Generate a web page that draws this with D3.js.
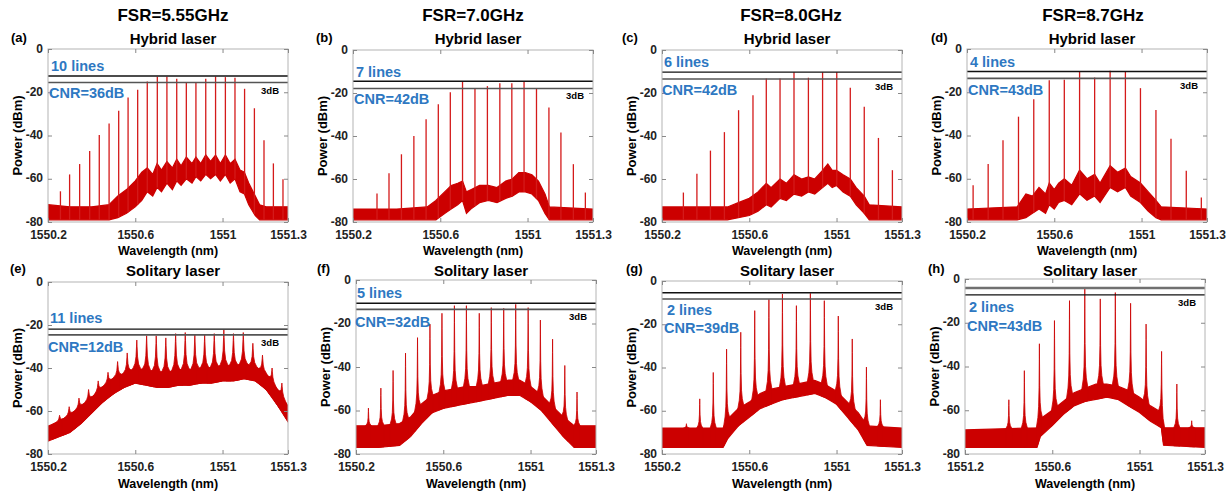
<!DOCTYPE html>
<html>
<head>
<meta charset="utf-8">
<script src="https://cdn.jsdelivr.net/npm/d3@7"></script>
<style>
  body { margin: 0; background: #fff; }
  svg { display: block; font-family: "Liberation Sans", Arial, sans-serif; font-weight: bold; }
</style>
</head>
<body>
<svg id="fig" width="1231" height="491"></svg>
<script>
// ---- data ----
var fsrTitles = ["FSR=5.55GHz", "FSR=7.0GHz", "FSR=8.0GHz", "FSR=8.7GHz"];
var panelTags = ["(a)", "(b)", "(c)", "(d)", "(e)", "(f)", "(g)", "(h)"];
var laserTitles = ["Hybrid laser", "Hybrid laser", "Hybrid laser", "Hybrid laser",
                   "Solitary laser", "Solitary laser", "Solitary laser", "Solitary laser"];
var lineCounts = ["10 lines", "7 lines", "6 lines", "4 lines", "11 lines", "5 lines", "2 lines", "2 lines"];
var cnrLabels = ["CNR=36dB", "CNR=42dB", "CNR=42dB", "CNR=43dB", "CNR=12dB", "CNR=32dB", "CNR=39dB", "CNR=43dB"];
// top / bottom of the 3 dB window (dBm)
var refLevels = [[-12.5, -15.5], [-14.5, -17.9], [-10.3, -13.5], [-10.4, -13.6],
                 [-21.9, -24.6], [-10.7, -13.5], [-5.4, -8.3], [-4.1, -7.3]];
var yTicks = [0, -20, -40, -60, -80];
var xTicks = [1550.2, 1550.6, 1551, 1551.3];
var xTickLabels = ["1550.2", "1550.6", "1551", "1551.3"];
var xTickLabelsH = ["1551.2", "1550.6", "1551", "1551.3"];

// comb lines [wavelength nm, power dBm]
var peaksA = [[1550.257,-65.8],[1550.299,-58],[1550.345,-53.2],[1550.391,-47.2],[1550.435,-39.8],[1550.480,-34.5],
  [1550.524,-28.5],[1550.567,-22.4],[1550.611,-18.9],[1550.655,-15],[1550.701,-12.8],[1550.745,-12.8],[1550.790,-13.8],
  [1550.834,-15.3],[1550.878,-15.3],[1550.923,-13.8],[1550.968,-12.8],[1551.013,-13],[1551.057,-13.3],[1551.101,-18.4],
  [1551.146,-27.4],[1551.190,-42.2],[1551.233,-52.9],[1551.277,-60.2]];
var peaksB = [[1550.310,-66.8],[1550.365,-57.3],[1550.422,-48.5],[1550.479,-40],[1550.535,-32.2],[1550.591,-25.2],
  [1550.646,-19.7],[1550.702,-14.6],[1550.759,-17.9],[1550.816,-16.8],[1550.873,-15.5],[1550.928,-15.5],[1550.984,-14.6],
  [1551.041,-17.9],[1551.098,-26.7],[1551.153,-38.4],[1551.210,-53.1],[1551.265,-66.3]];
var peaksC = [[1550.298,-66.3],[1550.360,-57.6],[1550.422,-46.8],[1550.486,-38.2],[1550.551,-28],[1550.617,-21],
  [1550.678,-13.2],[1550.741,-13.2],[1550.805,-10.4],[1550.871,-12.9],[1550.936,-10.4],[1551.001,-10.4],[1551.063,-17.6],
  [1551.127,-26.4],[1551.192,-40.9],[1551.256,-55.9]];
var peaksD = [[1550.228,-63],[1550.297,-53.2],[1550.365,-42.2],[1550.436,-31.3],[1550.506,-23.2],[1550.577,-14.5],
  [1550.646,-14.2],[1550.716,-10.3],[1550.785,-13.2],[1550.856,-10.1],[1550.926,-10.6],[1550.995,-18.1],[1551.066,-28.2],
  [1551.135,-41.5],[1551.205,-56.3],[1551.274,-68.7]];
var peaksE = [[1550.253,-62],[1550.297,-58],[1550.342,-54],[1550.386,-50],[1550.430,-46],[1550.475,-42],[1550.519,-37],
  [1550.563,-33],[1550.607,-27],[1550.652,-25],[1550.696,-25],[1550.740,-26],[1550.785,-24],[1550.829,-23.5],
  [1550.873,-24.5],[1550.918,-24.5],[1550.962,-24],[1551.006,-22.3],[1551.050,-24],[1551.095,-23.5],[1551.139,-28.5],
  [1551.183,-34],[1551.227,-40],[1551.272,-47]];
var peaksF = [[1550.257,-58.9],[1550.314,-49.7],[1550.370,-41.6],[1550.427,-33.6],[1550.482,-26.5],[1550.539,-20.3],
  [1550.594,-15.3],[1550.651,-11.8],[1550.706,-11.8],[1550.765,-15.3],[1550.820,-12.7],[1550.877,-13],[1550.932,-11.2],
  [1550.989,-12.7],[1551.045,-18.4],[1551.101,-27.2],[1551.157,-39.3],[1551.213,-51.5]];
var peaksG = [[1550.312,-66],[1550.373,-54.5],[1550.435,-42.3],[1550.496,-31.5],[1550.561,-23.7],[1550.625,-13.7],
  [1550.690,-8.5],[1550.752,-6],[1550.816,-11.4],[1550.880,-5.7],[1550.944,-9.1],[1551.008,-16.2],[1551.072,-26.8],
  [1551.137,-39.8],[1551.201,-54.9]];
var peaksH = [[1550.401,-55.2],[1550.472,-41.9],[1550.541,-29.6],[1550.610,-19],[1550.679,-9.9],[1550.749,-4.6],
  [1550.820,-9.1],[1550.889,-6.2],[1550.959,-11.1],[1551.030,-20.6],[1551.101,-33.1],[1551.171,-48],[1551.239,-64.8]];

// noise floor band [wavelength nm, lower dBm, upper dBm]
var floorA = [[1550.20,-79,-72],[1550.30,-79,-73],[1550.40,-79,-73],[1550.48,-79,-72],[1550.52,-78,-68],[1550.56,-76,-65],
  [1550.60,-73,-61],[1550.63,-70,-57],[1550.655,-66,-55],[1550.68,-68,-58],[1550.70,-64,-53],[1550.72,-66,-56],
  [1550.745,-62,-52],[1550.77,-65,-55],[1550.79,-61,-51],[1550.81,-63,-54],[1550.834,-60,-50],[1550.86,-62,-53],
  [1550.878,-59,-50],[1550.90,-61,-53],[1550.923,-58,-49],[1550.945,-60,-52],[1550.968,-58,-49],[1550.99,-61,-53],
  [1551.013,-58,-49],[1551.035,-62,-53],[1551.057,-60,-51],[1551.08,-66,-56],[1551.10,-67,-57],[1551.12,-72,-62],
  [1551.15,-77,-68],[1551.17,-79,-72],[1551.20,-79,-73],[1551.30,-79,-73]];
var floorB = [[1550.20,-79,-74],[1550.40,-79,-74],[1550.54,-79,-73],[1550.58,-79,-70],[1550.62,-76,-66],[1550.65,-74,-63],
  [1550.68,-72,-62],[1550.702,-70,-61],[1550.72,-76,-66],[1550.74,-74,-65],[1550.78,-71,-63],[1550.82,-70,-63],
  [1550.86,-71,-64],[1550.90,-69,-61],[1550.93,-68,-60],[1550.96,-66,-57],[1550.99,-66,-57],[1551.02,-67,-58],
  [1551.05,-70,-61],[1551.08,-76,-67],[1551.10,-79,-73],[1551.30,-79,-74]];
var floorC = [[1550.20,-79,-73],[1550.50,-79,-73],[1550.55,-78,-71],[1550.60,-77,-69],[1550.64,-75,-66],[1550.678,-72,-62],
  [1550.70,-73,-64],[1550.741,-69,-60],[1550.77,-70,-62],[1550.805,-67,-58],[1550.84,-68,-60],[1550.871,-66,-59],
  [1550.90,-67,-60],[1550.936,-64,-56],[1550.96,-62,-53],[1550.98,-64,-56],[1551.00,-63,-56],[1551.03,-66,-58],
  [1551.063,-68,-60],[1551.09,-72,-64],[1551.127,-76,-68],[1551.15,-79,-72],[1551.30,-79,-73]];
var floorD = [[1550.20,-79,-74],[1550.43,-79,-73],[1550.47,-78,-67],[1550.50,-76,-68],[1550.53,-74,-64],[1550.56,-76,-67],
  [1550.577,-72,-62],[1550.60,-74,-65],[1550.62,-71,-62],[1550.646,-70,-60],[1550.68,-72,-63],[1550.716,-67,-56],
  [1550.75,-70,-60],[1550.785,-68,-58],[1550.81,-71,-62],[1550.856,-64,-54],[1550.89,-66,-57],[1550.926,-64,-55],
  [1550.95,-68,-59],[1550.995,-71,-62],[1551.03,-75,-66],[1551.066,-78,-70],[1551.09,-79,-73],[1551.30,-79,-74]];
var floorE = [[1550.20,-74,-67],[1550.25,-72,-65],[1550.30,-70,-62],[1550.35,-66,-58],[1550.40,-61,-54],[1550.45,-56,-49],
  [1550.50,-52,-45],[1550.55,-49,-43],[1550.60,-47,-41],[1550.65,-48,-42],[1550.70,-49,-43],[1550.75,-49,-43],
  [1550.80,-48,-42],[1550.85,-48,-42],[1550.90,-47,-41],[1550.95,-47,-41],[1551.00,-46,-40],[1551.05,-46,-40],
  [1551.10,-45,-39],[1551.15,-46,-40],[1551.20,-50,-43],[1551.25,-57,-50],[1551.30,-65,-58]];
var floorF = [[1550.20,-77,-67],[1550.30,-77,-67],[1550.40,-76,-66],[1550.45,-72,-63],[1550.50,-66,-57],[1550.55,-61,-53],
  [1550.60,-59,-51],[1550.65,-58,-50],[1550.70,-57,-49],[1550.75,-56,-49],[1550.80,-55,-48],[1550.85,-54,-47],
  [1550.90,-53,-46],[1550.95,-53,-46],[1551.00,-56,-49],[1551.05,-60,-53],[1551.10,-66,-58],[1551.15,-72,-63],
  [1551.20,-77,-67],[1551.30,-77,-67]];
var floorG = [[1550.20,-77,-68],[1550.48,-77,-68],[1550.50,-73,-64],[1550.55,-67,-59],[1550.60,-63,-56],[1550.65,-59,-52],
  [1550.70,-57,-50],[1550.75,-55,-49],[1550.80,-54,-48],[1550.85,-53,-47],[1550.90,-52,-46],[1550.95,-54,-48],
  [1551.00,-57,-51],[1551.05,-63,-56],[1551.10,-69,-61],[1551.14,-76,-67],[1551.30,-77,-68]];
var floorH = [[1550.20,-77,-69],[1550.53,-77,-68],[1550.545,-72,-64],[1550.60,-67,-60],[1550.65,-62,-56],[1550.70,-58,-52],
  [1550.75,-56,-50],[1550.80,-55,-48],[1550.85,-54,-48],[1550.90,-55,-49],[1550.95,-58,-51],[1551.00,-61,-54],
  [1551.05,-65,-58],[1551.10,-68,-61],[1551.11,-76,-68],[1551.30,-77,-68]];

var allPeaks = [peaksA, peaksB, peaksC, peaksD, peaksE, peaksF, peaksG, peaksH];
var allFloors = [floorA, floorB, floorC, floorD, floorE, floorF, floorG, floorH];

// ---- layout (pixels) ----
var plotW = 240;
var panelBox = [
  {left: 48,  top: 49,  bottom: 222, tagX: 11,  titleX: 173, textX: 51,  linesY: 71,  cnrY: 98},
  {left: 353, top: 50,  bottom: 222, tagX: 316, titleX: 473, textX: 356, linesY: 77,  cnrY: 104},
  {left: 662, top: 50,  bottom: 222, tagX: 622, titleX: 791, textX: 664, linesY: 67,  cnrY: 95},
  {left: 967, top: 49,  bottom: 222, tagX: 931, titleX: 1093, textX: 970, linesY: 67, cnrY: 95},
  {left: 48,  top: 282, bottom: 454, tagX: 10,  textX: 50,  linesY: 323, cnrY: 352},
  {left: 356, top: 280, bottom: 454, tagX: 317, textX: 357, linesY: 298, cnrY: 327},
  {left: 662, top: 281, bottom: 454, tagX: 626, textX: 667, linesY: 315, cnrY: 333},
  {left: 965, top: 279, bottom: 454, tagX: 928, textX: 969, linesY: 312, cnrY: 331}
];
var red = "#cc0000", blue = "#2e78c2", frameGrey = "#b4b4b4";
// lorentz-like skirt glyph for solitary-laser lines: [offset nm, fraction of height]
var skirt = [[-0.014,0],[-0.007,0.1],[-0.0035,0.22],[-0.0015,0.45],[-0.0005,0.8],[0,1],
             [0.0005,0.8],[0.0015,0.45],[0.0035,0.22],[0.007,0.1],[0.014,0]];

var svg = d3.select("#fig");

// column titles
fsrTitles.forEach(function(t, i) {
  svg.append("text").attr("x", panelBox[i].titleX).attr("y", 21)
    .attr("text-anchor", "middle").attr("font-size", 17).text(t);
});

panelBox.forEach(function(b, i) {
  var L = b.left, R = b.left + plotW, T = b.top, B = b.bottom;
  var hybrid = i < 4;
  var x = d3.scaleLinear().domain([1550.2, 1551.3]).range([L, R]);
  var y = d3.scaleLinear().domain([-80, 0]).range([B, T]);
  var fl = allFloors[i];
  var hiAt = d3.scaleLinear().domain(fl.map(function(d) { return d[0]; })).range(fl.map(function(d) { return d[2]; }));
  var loAt = d3.scaleLinear().domain(fl.map(function(d) { return d[0]; })).range(fl.map(function(d) { return d[1]; }));

  var g = svg.append("g");
  svg.append("clipPath").attr("id", "clip" + i)
    .append("rect").attr("x", L).attr("y", T).attr("width", plotW).attr("height", B - T);
  var plot = g.append("g").attr("clip-path", "url(#clip" + i + ")");

  // noise floor
  plot.append("path").datum(fl)
    .attr("d", d3.area().x(function(d) { return x(d[0]); })
      .y0(function(d) { return y(d[1]); }).y1(function(d) { return y(d[2]); }))
    .attr("fill", red).attr("stroke", red).attr("stroke-width", 1.2);

  if (hybrid) {
    plot.selectAll("line.peak").data(allPeaks[i]).enter().append("line")
      .attr("class", "peak")
      .attr("x1", function(d) { return x(d[0]); }).attr("x2", function(d) { return x(d[0]); })
      .attr("y1", function(d) { return y(loAt(d[0])); }).attr("y2", function(d) { return y(d[1]); })
      .attr("stroke", "#d41a1a").attr("stroke-width", 1.3);
  } else {
    var k = i === 4 ? 2.4 : 1;
    plot.selectAll("path.peak").data(allPeaks[i]).enter().append("path")
      .attr("class", "peak")
      .attr("d", function(p) {
        var base = hiAt(p[0]);
        var pts = skirt.map(function(s) {
          var w = p[0] + s[0] * k;
          return [w, loAt(w), hiAt(w) + s[1] * (p[1] - base)];
        });
        return d3.area().x(function(d) { return x(d[0]); })
          .y0(function(d) { return y(d[1]); }).y1(function(d) { return y(d[2]); })(pts);
      })
      .attr("fill", red).attr("stroke", red).attr("stroke-width", 0.8);
  }

  // 3 dB window lines
  var lv = refLevels[i];
  var upperStyle = i === 7 ? ["#707070", 2.4] : ["#111", 1.4];
  var lowerStyle = i === 7 ? ["#111", 1.3] : ["#555", 1.6];
  g.append("line").attr("x1", L).attr("x2", R).attr("y1", y(lv[0])).attr("y2", y(lv[0]))
    .attr("stroke", upperStyle[0]).attr("stroke-width", upperStyle[1]);
  g.append("line").attr("x1", L).attr("x2", R).attr("y1", y(lv[1])).attr("y2", y(lv[1]))
    .attr("stroke", lowerStyle[0]).attr("stroke-width", lowerStyle[1]);
  g.append("text").attr("x", R - 9).attr("y", y(lv[1]) + 11)
    .attr("text-anchor", "end").attr("font-size", 9.5).text("3dB");

  // frame and axes
  g.append("rect").attr("x", L).attr("y", T).attr("width", plotW).attr("height", B - T)
    .attr("fill", "none").attr("stroke", frameGrey);
  var styleAxis = function(sel) {
    sel.attr("font-family", null).attr("font-size", 12).attr("font-weight", "bold");
    sel.select(".domain").remove();
    sel.selectAll(".tick line").attr("stroke", "#888");
    sel.selectAll(".tick text").attr("fill", "#222");
  };
  g.append("g").attr("transform", "translate(" + L + ",0)")
    .call(d3.axisLeft(y).tickValues(yTicks).tickSize(-4).tickPadding(5)
      .tickFormat(function(d) { return String(d); }))
    .call(styleAxis)
    .selectAll(".tick text").attr("dy", "0.26em");
  g.append("g").attr("transform", "translate(" + R + ",0)")
    .call(d3.axisRight(y).tickValues(yTicks).tickSize(-4).tickFormat(""))
    .call(styleAxis);
  var labels = i === 7 ? xTickLabelsH : xTickLabels;
  g.append("g").attr("transform", "translate(0," + B + ")")
    .call(d3.axisBottom(x).tickValues(xTicks).tickSize(-4).tickPadding(8)
      .tickFormat(function(d, j) { return labels[j]; }))
    .call(styleAxis);
  g.append("g").attr("transform", "translate(0," + T + ")")
    .call(d3.axisTop(x).tickValues(xTicks).tickSize(-4).tickFormat(""))
    .call(styleAxis);

  // titles and labels
  var mid = (L + R) / 2;
  g.append("text").attr("x", mid + 5).attr("y", hybrid ? 44 : 276)
    .attr("text-anchor", "middle").attr("font-size", 15).text(laserTitles[i]);
  g.append("text").attr("x", b.tagX).attr("y", hybrid ? 42 : 273)
    .attr("font-size", 13).text(panelTags[i]);
  g.append("text").attr("x", mid).attr("y", hybrid ? 255 : 488)
    .attr("text-anchor", "middle").attr("font-size", 12.5).text("Wavelength (nm)");
  g.append("text").attr("transform", "translate(" + (L - 31) + "," + ((T + B) / 2) + ") rotate(-90)")
    .attr("text-anchor", "middle").attr("dy", "0.35em").attr("font-size", 13).text("Power (dBm)");
  g.append("text").attr("x", b.textX).attr("y", b.linesY)
    .attr("font-size", 14.5).attr("fill", blue).text(lineCounts[i]);
  g.append("text").attr("x", i === 6 ? b.textX - 3 : b.textX - 2).attr("y", b.cnrY)
    .attr("font-size", 14.5).attr("fill", blue).text(cnrLabels[i]);
});
</script>
</body>
</html>
